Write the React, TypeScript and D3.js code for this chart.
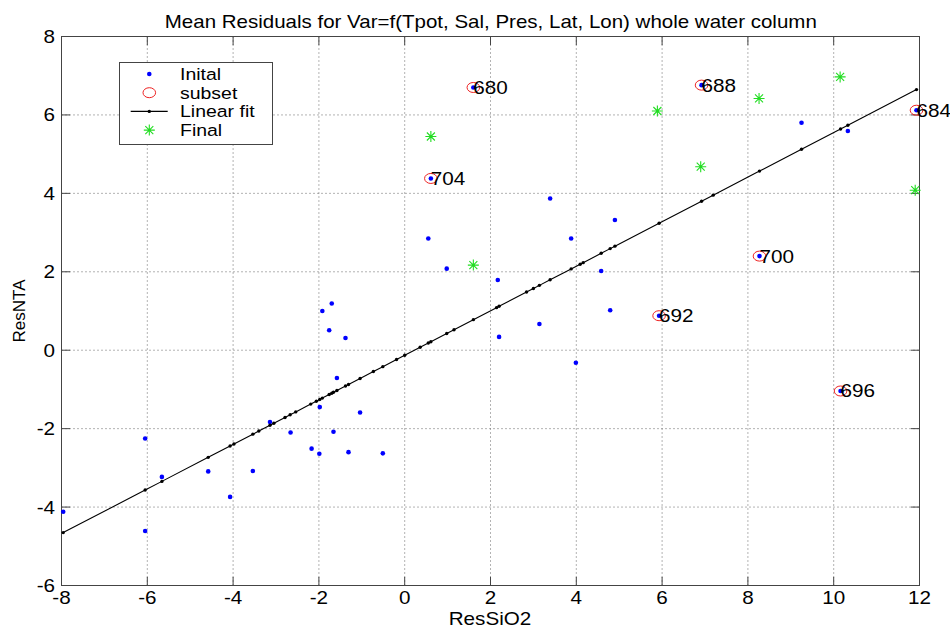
import React from "react";
import * as d3 from "d3";

const xTicks = [-8, -6, -4, -2, 0, 2, 4, 6, 8, 10, 12];
const yTicks = [-6, -4, -2, 0, 2, 4, 6, 8];

const initialX = [-7.96, -6.05, -6.05, -5.66, -4.58, -4.07, -3.54, -3.14, -2.66, -2.17, -1.99, -1.98, -1.92, -1.76, -1.7, -1.66, -1.58, -1.38, -1.31, -1.04, -0.51, 0.55, 0.61, 0.98, 1.6, 2.17, 2.2, 3.14, 3.39, 3.88, 3.99, 4.58, 4.79, 4.9, 5.93, 6.92, 8.27, 9.25, 10.16, 10.33, 11.93];
const initialY = [-4.12, -2.25, -4.61, -3.23, -3.09, -3.74, -3.08, -1.83, -2.1, -2.51, -2.64, -1.45, 1.0, 0.51, 1.19, -2.08, -0.71, 0.31, -2.6, -1.59, -2.63, 2.85, 4.38, 2.08, 6.7, 1.79, 0.34, 0.67, 3.87, 2.85, -0.32, 2.02, 1.02, 3.32, 0.88, 6.76, 2.4, 5.8, -1.04, 5.59, 6.12];

const subsetLabels = ["680", "684", "688", "692", "696", "700", "704"];
const subsetX = [1.6, 11.93, 6.92, 5.93, 10.16, 8.27, 0.61];
const subsetY = [6.7, 6.12, 6.76, 0.88, -1.04, 2.4, 4.38];

const finalX = [1.6, 11.9, 6.9, 5.89, 10.15, 8.26, 0.61];
const finalY = [2.17, 4.08, 4.68, 6.1, 6.97, 6.42, 5.45];

const fitX = [-7.96, -6.05, -5.66, -4.58, -4.07, -3.98, -3.54, -3.4, -3.14, -3.05, -2.79, -2.67, -2.54, -2.19, -2.06, -1.98, -1.92, -1.76, -1.7, -1.66, -1.58, -1.38, -1.31, -1.04, -0.73, -0.51, -0.19, 0.0, 0.36, 0.55, 0.61, 0.98, 1.15, 1.6, 2.14, 2.2, 2.84, 3.0, 3.14, 3.39, 3.88, 4.09, 4.16, 4.58, 4.79, 4.9, 5.93, 6.92, 7.19, 8.27, 9.25, 10.16, 10.33, 11.93];
const fitSlope = 0.568;
const fitIntercept = -0.13;

const legendLabels = ["Inital", "subset", "Linear fit", "Final"];

const W = 950;
const H = 627;
const PL = 61.5, PR = 919.5, PT = 36.5, PB = 585.5;
const FONT = "Arial, 'Liberation Sans', Helvetica, sans-serif";
const SX = 1.18;

function Star({ cx, cy, color }: { cx: number; cy: number; color: string }) {
  const p = d3.path();
  p.moveTo(cx - 5.5, cy); p.lineTo(cx + 5.5, cy);
  p.moveTo(cx, cy - 5.5); p.lineTo(cx, cy + 5.5);
  p.moveTo(cx - 4, cy - 4); p.lineTo(cx + 4, cy + 4);
  p.moveTo(cx - 4, cy + 4); p.lineTo(cx + 4, cy - 4);
  return <path d={p.toString()} stroke={color} strokeWidth={1.1} fill="none" />;
}

function SText({ x, y, size, anchor, children, sx = SX }: any) {
  return (
    <text
      transform={`translate(${x},${y}) scale(${sx},1)`}
      fontSize={size}
      fontFamily={FONT}
      textAnchor={anchor || "start"}
      fill="#000"
    >
      {children}
    </text>
  );
}

export default function App() {
  const x = d3.scaleLinear().domain([-8, 12]).range([PL, PR]);
  const y = d3.scaleLinear().domain([-6, 8]).range([PB, PT]);
  const fitLine = d3.line<number>().x((d) => x(d)).y((d) => y(fitSlope * d + fitIntercept));
  const green = "#22dd22";
  const tickLen = 8.6;

  const legendX0 = 119.5, legendY0 = 62.5, legendW = 153, legendH = 82;
  const rowY = (i: number) => legendY0 + 11.5 + i * 18.7;
  const markX = 149.3;

  return (
    <svg
      width={W}
      height={H}
      style={{ position: "absolute", left: 0, top: 0, background: "#fff" }}
    >
      <rect x={0} y={0} width={W} height={H} fill="#fff" />
      {/* grid */}
      {xTicks.slice(1, -1).map((t) => (
        <line key={"gx" + t} x1={x(t)} x2={x(t)} y1={PT} y2={PB} stroke="#666" strokeWidth={1} strokeDasharray="1,3" />
      ))}
      {yTicks.slice(1, -1).map((t) => (
        <line key={"gy" + t} x1={PL} x2={PR} y1={y(t)} y2={y(t)} stroke="#666" strokeWidth={1} strokeDasharray="1,3" />
      ))}
      {/* ticks */}
      {xTicks.map((t) => (
        <g key={"tx" + t}>
          <line x1={x(t)} x2={x(t)} y1={PB} y2={PB - tickLen} stroke="#444" />
          <line x1={x(t)} x2={x(t)} y1={PT} y2={PT + tickLen} stroke="#444" />
          <SText x={x(t)} y={604} size={17.5} anchor="middle">{String(t)}</SText>
        </g>
      ))}
      {yTicks.map((t) => (
        <g key={"ty" + t}>
          <line x1={PL} x2={PL + tickLen} y1={y(t)} y2={y(t)} stroke="#444" />
          <line x1={PR} x2={PR - tickLen} y1={y(t)} y2={y(t)} stroke="#444" />
          <SText x={55} y={y(t) + 6.5} size={17.5} anchor="end">{String(t)}</SText>
        </g>
      ))}
      <rect x={PL} y={PT} width={PR - PL} height={PB - PT} fill="none" stroke="#444" strokeWidth={1} />

      {/* initial */}
      {initialX.map((d, i) => (
        <circle key={"i" + i} cx={x(d)} cy={y(initialY[i])} r={2.3} fill="#0000ff" />
      ))}
      {/* subset */}
      {subsetX.map((d, i) => (
        <ellipse key={"s" + i} cx={x(d)} cy={y(subsetY[i])} rx={6.3} ry={5} fill="none" stroke="#ee2222" strokeWidth={1} />
      ))}
      {/* fit */}
      <path d={fitLine(fitX) || ""} stroke="#000" strokeWidth={1.1} fill="none" />
      {fitX.map((d, i) => (
        <circle key={"f" + i} cx={x(d)} cy={y(fitSlope * d + fitIntercept)} r={1.7} fill="#000" />
      ))}
      {/* final */}
      {finalX.map((d, i) => (
        <Star key={"st" + i} cx={x(d)} cy={y(finalY[i])} color={green} />
      ))}
      {/* labels */}
      {subsetX.map((d, i) => (
        <SText key={"l" + i} x={x(d)} y={y(subsetY[i]) + 6.5} size={18} sx={1.15}>{subsetLabels[i]}</SText>
      ))}

      {/* legend */}
      <rect x={legendX0} y={legendY0} width={legendW} height={legendH} fill="#fff" stroke="#444" strokeWidth={1} />
      <circle cx={markX} cy={rowY(0)} r={2.3} fill="#0000ff" />
      <ellipse cx={markX} cy={rowY(1)} rx={6.3} ry={5} fill="none" stroke="#ee2222" />
      <line x1={130.7} x2={167.7} y1={rowY(2)} y2={rowY(2)} stroke="#000" strokeWidth={1.1} />
      <circle cx={markX} cy={rowY(2)} r={1.7} fill="#000" />
      <Star cx={markX} cy={rowY(3)} color={green} />
      {legendLabels.map((l, i) => (
        <SText key={"lg" + i} x={180} y={rowY(i) + 6} size={16.5}>{l}</SText>
      ))}

      {/* title and axis labels */}
      <text x={490.8} y={27.5} fontSize={19} fontFamily={FONT} textAnchor="middle" textLength={652} lengthAdjust="spacingAndGlyphs">
        Mean Residuals for Var=f(Tpot, Sal, Pres, Lat, Lon) whole water column
      </text>
      <SText x={490} y={624.5} size={17.5} anchor="middle">ResSiO2</SText>
      <text transform="translate(25,311) rotate(-90)" fontSize={17} fontFamily={FONT} textAnchor="middle">
        ResNTA
      </text>
    </svg>
  );
}
